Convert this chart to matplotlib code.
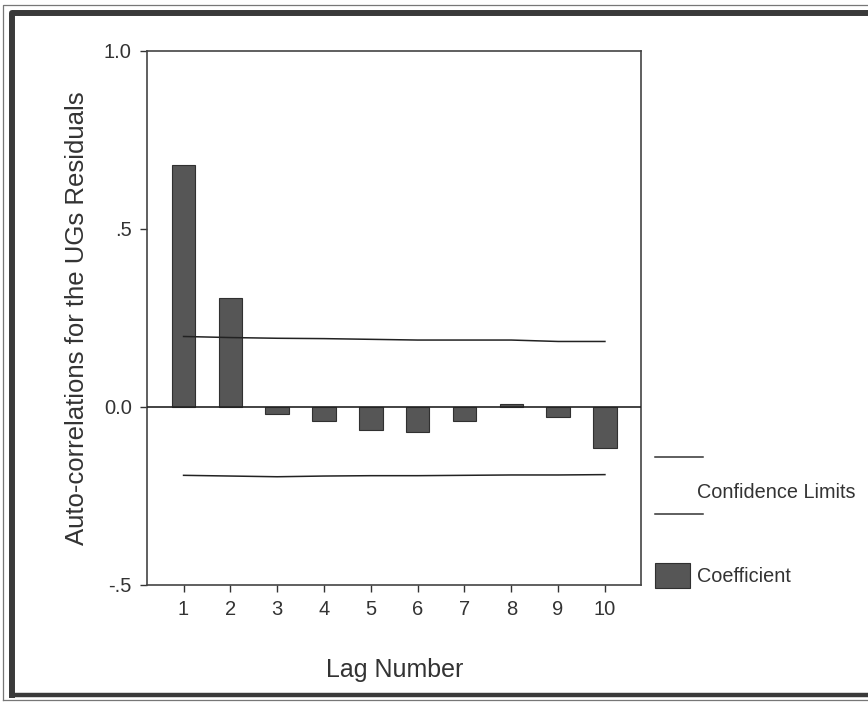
import matplotlib
matplotlib.use("Agg")
import matplotlib.pyplot as plt
from matplotlib.lines import Line2D
from matplotlib.patches import Rectangle

plt.rcParams["font.family"] = ["Liberation Sans", "DejaVu Sans"]

# ACF values
lags = [1, 2, 3, 4, 5, 6, 7, 8, 9, 10]
coefficient = [0.679, 0.306, -0.021, -0.040, -0.064, -0.071, -0.038, 0.008, -0.029, -0.116]
upper_limit = [0.198, 0.195, 0.193, 0.192, 0.190, 0.188, 0.188, 0.188, 0.184, 0.184]
lower_limit = [-0.192, -0.194, -0.196, -0.194, -0.193, -0.193, -0.192, -0.191, -0.191, -0.190]
ytick_vals = [-0.5, 0.0, 0.5, 1.0]
ytick_text = ["-.5", "0.0", ".5", "1.0"]

fig = plt.figure(figsize=(8.68, 7.02), dpi=100)
ax = fig.add_axes([0.1694, 0.1667, 0.5696, 0.7607])

ax.bar(lags, coefficient, width=0.5, color="#565656", edgecolor="#303030", linewidth=0.8, zorder=2)
ax.axhline(0, color="#222222", linewidth=1.2, zorder=3)
ax.plot(lags, upper_limit, color="#222222", linewidth=1.1, zorder=4)
ax.plot(lags, lower_limit, color="#222222", linewidth=1.1, zorder=4)

ax.set_xlim(0.22, 10.78)
ax.set_ylim(-0.5, 1.0)
ax.set_xticks(lags)
ax.set_xticklabels([str(l) for l in lags])
ax.set_yticks(ytick_vals)
ax.set_yticklabels(ytick_text)
ax.tick_params(direction="out", length=5, width=1, labelsize=14.5, pad=6, colors="#333333")
for s in ax.spines.values():
    s.set_color("#444444")
    s.set_linewidth(1.2)

ax.set_xlabel("Lag Number", fontsize=18, color="#333333", labelpad=28)
ax.set_ylabel("Auto-correlations for the UGs Residuals", fontsize=18.5, color="#333333", labelpad=11)

# legend, SPSS style
fig.add_artist(Line2D([0.755, 0.810], [1 - 457 / 702] * 2, color="#333333", linewidth=1.1))
fig.add_artist(Line2D([0.755, 0.810], [1 - 514 / 702] * 2, color="#333333", linewidth=1.1))
fig.text(0.803, 1 - 493 / 702, "Confidence Limits", fontsize=14.3, va="center", ha="left", color="#333333")
fig.add_artist(Rectangle((0.755, 1 - 588 / 702), 0.040, 25 / 702, facecolor="#565656", edgecolor="#303030", linewidth=0.8))
fig.text(0.803, 1 - 576 / 702, "Coefficient", fontsize=14.3, va="center", ha="left", color="#333333")

# scanned page frame: thin outer line, thick inner line
fig.add_artist(Line2D([3 / 868, 3 / 868, 1.0], [1 - 700 / 702, 1 - 5 / 702, 1 - 5 / 702], color="#777777", linewidth=0.9))
fig.add_artist(Line2D([3 / 868, 1.0], [1 - 700 / 702] * 2, color="#777777", linewidth=0.9))
fig.add_artist(Line2D([11.5 / 868, 11.5 / 868, 1.0], [1 - 695 / 702, 1 - 13 / 702, 1 - 13 / 702], color="#3a3a3a", linewidth=4.3))
fig.add_artist(Line2D([11.5 / 868, 1.0], [1 - 695 / 702] * 2, color="#3a3a3a", linewidth=3.2))

fig.savefig("out.png", dpi=100)
